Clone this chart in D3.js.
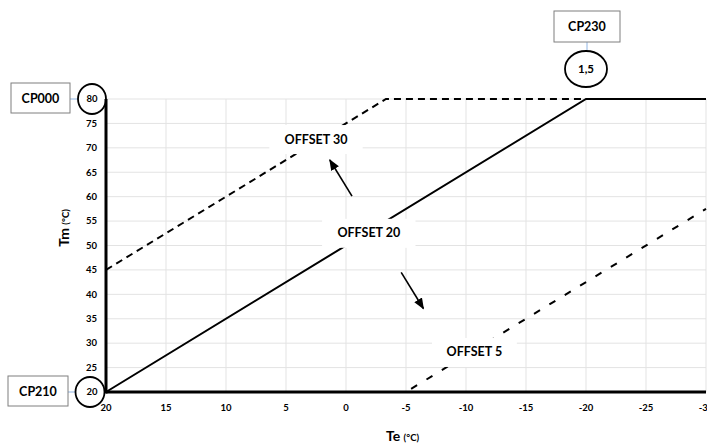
<!DOCTYPE html>
<html>
<head>
<meta charset="utf-8">
<script src="https://cdn.jsdelivr.net/npm/d3@7"></script>
<style>
  body { margin: 0; background: #fff; }
  text { font-family: Lato, 'Open Sans', sans-serif; font-weight: bold; fill: #000; }
</style>
</head>
<body>
<div id="chart"></div>
<script>
  // axis ticks
  var teTicks = [20, 15, 10, 5, 0, -5, -10, -15, -20, -25, -30];
  var tmTicks = [20, 25, 30, 35, 40, 45, 50, 55, 60, 65, 70, 75, 80];

  // curves (Te, Tm)
  var offset20Te = [20, -20, -30];
  var offset20Tm = [20, 80, 80];
  var offset30Te = [20, -3.33, -20];
  var offset30Tm = [45, 80, 80];
  var offset5Te = [-5, -30];
  var offset5Tm = [20, 57.5];

  // annotations
  var offsetLabels = ['OFFSET 30', 'OFFSET 20', 'OFFSET 5'];
  var offsetLabelTe = [2.5, -1.9, -10.7];
  var offsetLabelTm = [71.8, 52.6, 28.2];
  var arrowFromTe = [-0.5, -4.6];
  var arrowFromTm = [60.1, 44.5];
  var arrowToTe = [1.35, -6.45];
  var arrowToTm = [67.5, 37.1];
  var paramNames = ['CP000', 'CP210', 'CP230'];
  var paramValues = ['80', '20', '1,5'];

  var width = 707;
  var height = 444;

  var x = d3.scaleLinear().domain([20, -30]).range([106, 706]);
  var y = d3.scaleLinear().domain([20, 80]).range([392, 99]);

  var svg = d3.select('#chart').append('svg')
    .attr('width', width)
    .attr('height', height);

  svg.append('defs').append('marker')
    .attr('id', 'arrow')
    .attr('viewBox', '0 0 10 10')
    .attr('refX', 9)
    .attr('refY', 5)
    .attr('markerWidth', 7)
    .attr('markerHeight', 7)
    .attr('markerUnits', 'strokeWidth')
    .attr('orient', 'auto')
    .append('path')
    .attr('d', 'M0,1 L10,5 L0,9 Z')
    .attr('fill', '#000');

  /* grid */
  svg.append('g')
    .selectAll('line.h')
    .data(tmTicks)
    .enter()
    .append('line')
    .attr('x1', x(20))
    .attr('x2', x(-30))
    .attr('y1', function (d) { return y(d); })
    .attr('y2', function (d) { return y(d); })
    .attr('stroke', '#e3e3e3')
    .attr('stroke-width', 1);

  svg.append('g')
    .selectAll('line.v')
    .data(teTicks)
    .enter()
    .append('line')
    .attr('x1', function (d) { return x(d); })
    .attr('x2', function (d) { return x(d); })
    .attr('y1', y(80))
    .attr('y2', y(20))
    .attr('stroke', '#e3e3e3')
    .attr('stroke-width', 1);

  /* curves */
  var line = d3.line()
    .x(function (d) { return x(d[0]); })
    .y(function (d) { return y(d[1]); });

  function pts(te, tm) {
    return te.map(function (d, i) { return [d, tm[i]]; });
  }

  svg.append('path')
    .datum(pts(offset30Te, offset30Tm))
    .attr('d', line)
    .attr('fill', 'none')
    .attr('stroke', '#000')
    .attr('stroke-width', 2)
    .attr('stroke-dasharray', '7,5');

  svg.append('path')
    .datum(pts(offset5Te, offset5Tm))
    .attr('d', line)
    .attr('fill', 'none')
    .attr('stroke', '#000')
    .attr('stroke-width', 2)
    .attr('stroke-dasharray', '0,6,7,5');

  svg.append('path')
    .datum(pts(offset20Te, offset20Tm))
    .attr('d', line)
    .attr('fill', 'none')
    .attr('stroke', '#000')
    .attr('stroke-width', 2);

  /* offset labels with white boxes */
  var labels = svg.append('g')
    .selectAll('g')
    .data(offsetLabels)
    .enter()
    .append('g')
    .attr('transform', function (d, i) {
      return 'translate(' + x(offsetLabelTe[i]) + ',' + y(offsetLabelTm[i]) + ')';
    });

  labels.append('rect')
    .attr('x', function (d) { return -d.length * 4.3 - 8; })
    .attr('y', -14)
    .attr('width', function (d) { return d.length * 8.6 + 16; })
    .attr('height', 29)
    .attr('fill', '#fff');

  labels.append('text')
    .attr('text-anchor', 'middle')
    .attr('dy', '0.36em')
    .style('font-size', '12.5px')
    .text(function (d) { return d; });

  /* arrows */
  svg.append('g')
    .selectAll('line')
    .data(arrowFromTe)
    .enter()
    .append('line')
    .attr('x1', function (d) { return x(d); })
    .attr('y1', function (d, i) { return y(arrowFromTm[i]); })
    .attr('x2', function (d, i) { return x(arrowToTe[i]); })
    .attr('y2', function (d, i) { return y(arrowToTm[i]); })
    .attr('stroke', '#000')
    .attr('stroke-width', 1.6)
    .attr('marker-end', 'url(#arrow)');

  /* axes */
  svg.append('line')
    .attr('x1', x(20)).attr('x2', x(-30))
    .attr('y1', y(20)).attr('y2', y(20))
    .attr('stroke', '#000')
    .attr('stroke-width', 3);
  svg.append('line')
    .attr('x1', x(20)).attr('x2', x(20))
    .attr('y1', y(80)).attr('y2', y(20) + 1.5)
    .attr('stroke', '#000')
    .attr('stroke-width', 3);

  svg.append('g')
    .selectAll('text')
    .data(teTicks)
    .enter()
    .append('text')
    .attr('x', function (d) { return x(d); })
    .attr('y', 411)
    .attr('text-anchor', 'middle')
    .style('font-size', '9.5px')
    .text(function (d) { return d; });

  svg.append('g')
    .selectAll('text')
    .data(tmTicks)
    .enter()
    .append('text')
    .attr('x', function (d) { return d === 80 || d === 20 ? 92 : 97; })
    .attr('y', function (d) { return y(d); })
    .attr('dy', '0.35em')
    .attr('text-anchor', function (d) { return d === 80 || d === 20 ? 'middle' : 'end'; })
    .style('font-size', '9.5px')
    .text(function (d) { return d; });

  /* axis titles */
  var tmTitle = svg.append('text')
    .attr('transform', 'translate(69,228) rotate(-90)')
    .attr('text-anchor', 'middle');
  tmTitle.append('tspan').style('font-size', '14px').text('Tm ');
  tmTitle.append('tspan').style('font-size', '9.5px').text('(°C)');

  var teTitle = svg.append('text')
    .attr('x', 386)
    .attr('y', 441);
  teTitle.append('tspan').style('font-size', '14px').text('Te ');
  teTitle.append('tspan').style('font-size', '9.5px').text('(°C)');

  /* parameter callouts */
  function callout(name, value, cx, cy, rx, ry, bx, by, bw, bh, lx1, ly1, lx2, ly2) {
    svg.append('line')
      .attr('x1', lx1).attr('y1', ly1)
      .attr('x2', lx2).attr('y2', ly2)
      .attr('stroke', '#8fb4e3')
      .attr('stroke-width', 1);
    svg.append('rect')
      .attr('x', bx).attr('y', by)
      .attr('width', bw).attr('height', bh)
      .attr('fill', '#fff')
      .attr('stroke', '#7f7f7f')
      .attr('stroke-width', 1);
    svg.append('text')
      .attr('x', bx + bw / 2)
      .attr('y', by + bh / 2)
      .attr('dy', '0.36em')
      .attr('text-anchor', 'middle')
      .style('font-size', '12.5px')
      .text(name);
    svg.append('ellipse')
      .attr('cx', cx).attr('cy', cy)
      .attr('rx', rx).attr('ry', ry)
      .attr('fill', 'none')
      .attr('stroke', '#000')
      .attr('stroke-width', 1.8);
    if (value === '1,5') {
      svg.append('text')
        .attr('x', cx)
        .attr('y', cy)
        .attr('dy', '0.36em')
        .attr('text-anchor', 'middle')
        .style('font-size', '11.5px')
        .text(value);
    }
  }

  callout(paramNames[0], paramValues[0], 92, y(80), 14, 15, 11, 83, 59, 30, 70, y(80), 78, y(80));
  callout(paramNames[1], paramValues[1], 90, y(20), 14.5, 15, 8, 376, 60, 30, 68, y(20), 75.5, y(20));
  callout(paramNames[2], paramValues[2], x(-20), 69, 21, 18, 554, 11, 66, 31, 587, 42, 587, 51);
</script>
</body>
</html>
